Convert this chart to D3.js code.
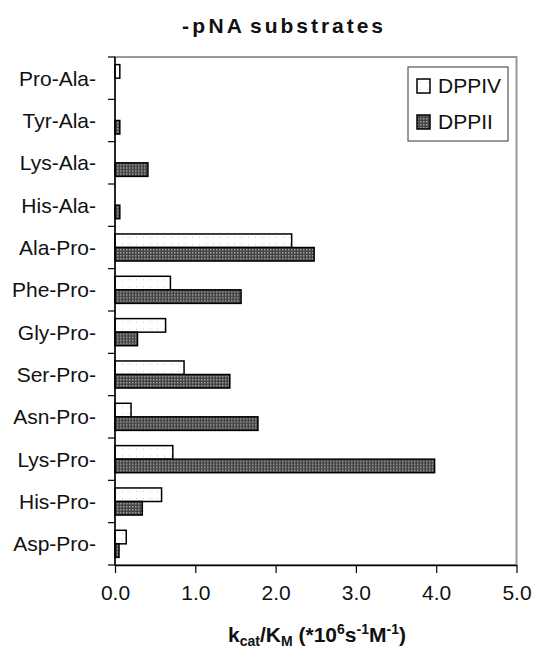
<!DOCTYPE html>
<html>
<head>
<meta charset="utf-8">
<script src="https://cdn.jsdelivr.net/npm/d3@7/dist/d3.min.js"></script>
<style>
  html, body { margin: 0; padding: 0; background: #fff; }
  svg { display: block; font-family: "Liberation Sans", Arial, Helvetica, sans-serif; }
</style>
</head>
<body>
<svg id="chart" width="533" height="658"></svg>
<script>
// Substrates, top to bottom
const categories = ["Pro-Ala-", "Tyr-Ala-", "Lys-Ala-", "His-Ala-", "Ala-Pro-", "Phe-Pro-",
                    "Gly-Pro-", "Ser-Pro-", "Asn-Pro-", "Lys-Pro-", "His-Pro-", "Asp-Pro-"];
const series = ["DPPIV", "DPPII"];
// kcat/KM in 10^6 s^-1 M^-1
const dppiv = [0.06, 0, 0, 0, 2.20, 0.69, 0.63, 0.86, 0.20, 0.72, 0.58, 0.14];
const dppii = [0, 0.06, 0.41, 0.06, 2.48, 1.57, 0.28, 1.43, 1.78, 3.98, 0.34, 0.05];
const xTicks = [0, 1, 2, 3, 4, 5];

const svg = d3.select("#chart");
const m = { left: 115, right: 516.5, top: 57, bottom: 565 };

// Patterns for the two bar fills
const defs = svg.append("defs");
const pLight = defs.append("pattern").attr("id", "fillIV")
  .attr("patternUnits", "userSpaceOnUse").attr("width", 7).attr("height", 7);
pLight.append("rect").attr("width", 7).attr("height", 7).attr("fill", "#fff");
pLight.append("rect").attr("x", 3).attr("y", 3).attr("width", 1).attr("height", 1).attr("fill", "#c8c8c8");

const pDark = defs.append("pattern").attr("id", "fillII")
  .attr("patternUnits", "userSpaceOnUse").attr("width", 3).attr("height", 3);
pDark.append("rect").attr("width", 3).attr("height", 3).attr("fill", "#444");
pDark.append("rect").attr("x", 0).attr("y", 0).attr("width", 1.5).attr("height", 1.5).attr("fill", "#a0a0a0");

const fills = { DPPIV: "url(#fillIV)", DPPII: "url(#fillII)" };

const x = d3.scaleLinear().domain([0, 5]).range([m.left, m.right]);
const y = d3.scaleBand().domain(categories).range([m.top, m.bottom])
  .paddingInner(0.36).paddingOuter(0.18);
const ySub = d3.scaleBand().domain(series).range([0, y.bandwidth()]);

// Plot frame
svg.append("rect")
  .attr("x", m.left).attr("y", m.top)
  .attr("width", m.right - m.left).attr("height", m.bottom - m.top)
  .attr("fill", "none").attr("stroke", "#999").attr("stroke-width", 2);

// Bars
const rows = categories.map((c, i) => ({ cat: c, DPPIV: dppiv[i], DPPII: dppii[i] }));
const groups = svg.append("g").selectAll("g").data(rows).join("g")
  .attr("transform", d => `translate(0,${y(d.cat)})`);
groups.selectAll("rect")
  .data(d => series.map(s => ({ s, v: d[s] })).filter(e => e.v > 0))
  .join("rect")
  .attr("x", x(0))
  .attr("y", e => ySub(e.s))
  .attr("width", e => x(e.v) - x(0))
  .attr("height", ySub.bandwidth())
  .attr("fill", e => fills[e.s])
  .attr("stroke", "#000").attr("stroke-width", 1.5);

// X axis
const xAxis = svg.append("g").attr("transform", `translate(0,${m.bottom})`)
  .call(d3.axisBottom(x).tickValues(xTicks).tickFormat(d3.format(".1f")).tickSize(8).tickSizeOuter(0));
xAxis.select(".domain").attr("stroke", "#000").attr("stroke-width", 1.5);
xAxis.selectAll(".tick line").attr("stroke", "#000").attr("stroke-width", 1.2);
xAxis.selectAll(".tick text").attr("font-size", 21).attr("font-family", "Liberation Sans, Arial, sans-serif")
  .attr("fill", "#111").attr("dy", "1.15em");

// Y axis: labels at band centres, ticks at band boundaries
const step = y.step();
const gy = svg.append("g");
gy.append("line").attr("x1", m.left).attr("x2", m.left).attr("y1", m.top).attr("y2", m.bottom)
  .attr("stroke", "#000").attr("stroke-width", 1.5);
gy.selectAll("line.tk").data(d3.range(categories.length + 1)).join("line").attr("class", "tk")
  .attr("x1", m.left - 7).attr("x2", m.left)
  .attr("y1", i => m.top + i * step).attr("y2", i => m.top + i * step)
  .attr("stroke", "#000").attr("stroke-width", 1.2);
gy.selectAll("text").data(categories).join("text")
  .attr("x", m.left - 19)
  .attr("y", c => y(c) + y.bandwidth() / 2)
  .attr("dy", "0.35em")
  .attr("text-anchor", "end")
  .attr("font-size", 21).attr("fill", "#111")
  .text(c => c);

// Title
const title = svg.append("text").attr("y", 33)
  .attr("font-size", 21).attr("font-weight", "bold").attr("fill", "#111");
title.append("tspan").attr("x", 182).attr("textLength", 60).attr("lengthAdjust", "spacing").text("-pNA");
title.append("tspan").attr("x", 250).attr("textLength", 133).attr("lengthAdjust", "spacing").text("substrates");

// X axis title
const xt = svg.append("text").attr("x", 317).attr("y", 642).attr("text-anchor", "middle")
  .attr("font-size", 21).attr("font-weight", "bold").attr("fill", "#111");
xt.append("tspan").text("k");
xt.append("tspan").attr("font-size", 14).attr("dy", 4).text("cat");
xt.append("tspan").attr("dy", -4).text("/K");
xt.append("tspan").attr("font-size", 14).attr("dy", 4).text("M");
xt.append("tspan").attr("dy", -4).text(" (*10");
xt.append("tspan").attr("font-size", 14).attr("dy", -8).text("6");
xt.append("tspan").attr("dy", 8).text("s");
xt.append("tspan").attr("font-size", 14).attr("dy", -8).text("-1");
xt.append("tspan").attr("dy", 8).text("M");
xt.append("tspan").attr("font-size", 14).attr("dy", -8).text("-1");
xt.append("tspan").attr("dy", 8).text(")");

// Legend
const lg = svg.append("g");
lg.append("rect").attr("x", 408).attr("y", 67).attr("width", 100).attr("height", 74)
  .attr("fill", "#fff").attr("stroke", "#555").attr("stroke-width", 1.2);
const items = lg.selectAll("g").data(series).join("g")
  .attr("transform", (d, i) => `translate(417,${79 + i * 36})`);
items.append("rect").attr("width", 13).attr("height", 14)
  .attr("fill", d => fills[d]).attr("stroke", "#000").attr("stroke-width", 1.5);
items.append("text").attr("x", 21).attr("y", 14).attr("font-size", 21).attr("fill", "#111")
  .text(d => d);
</script>
</body>
</html>
